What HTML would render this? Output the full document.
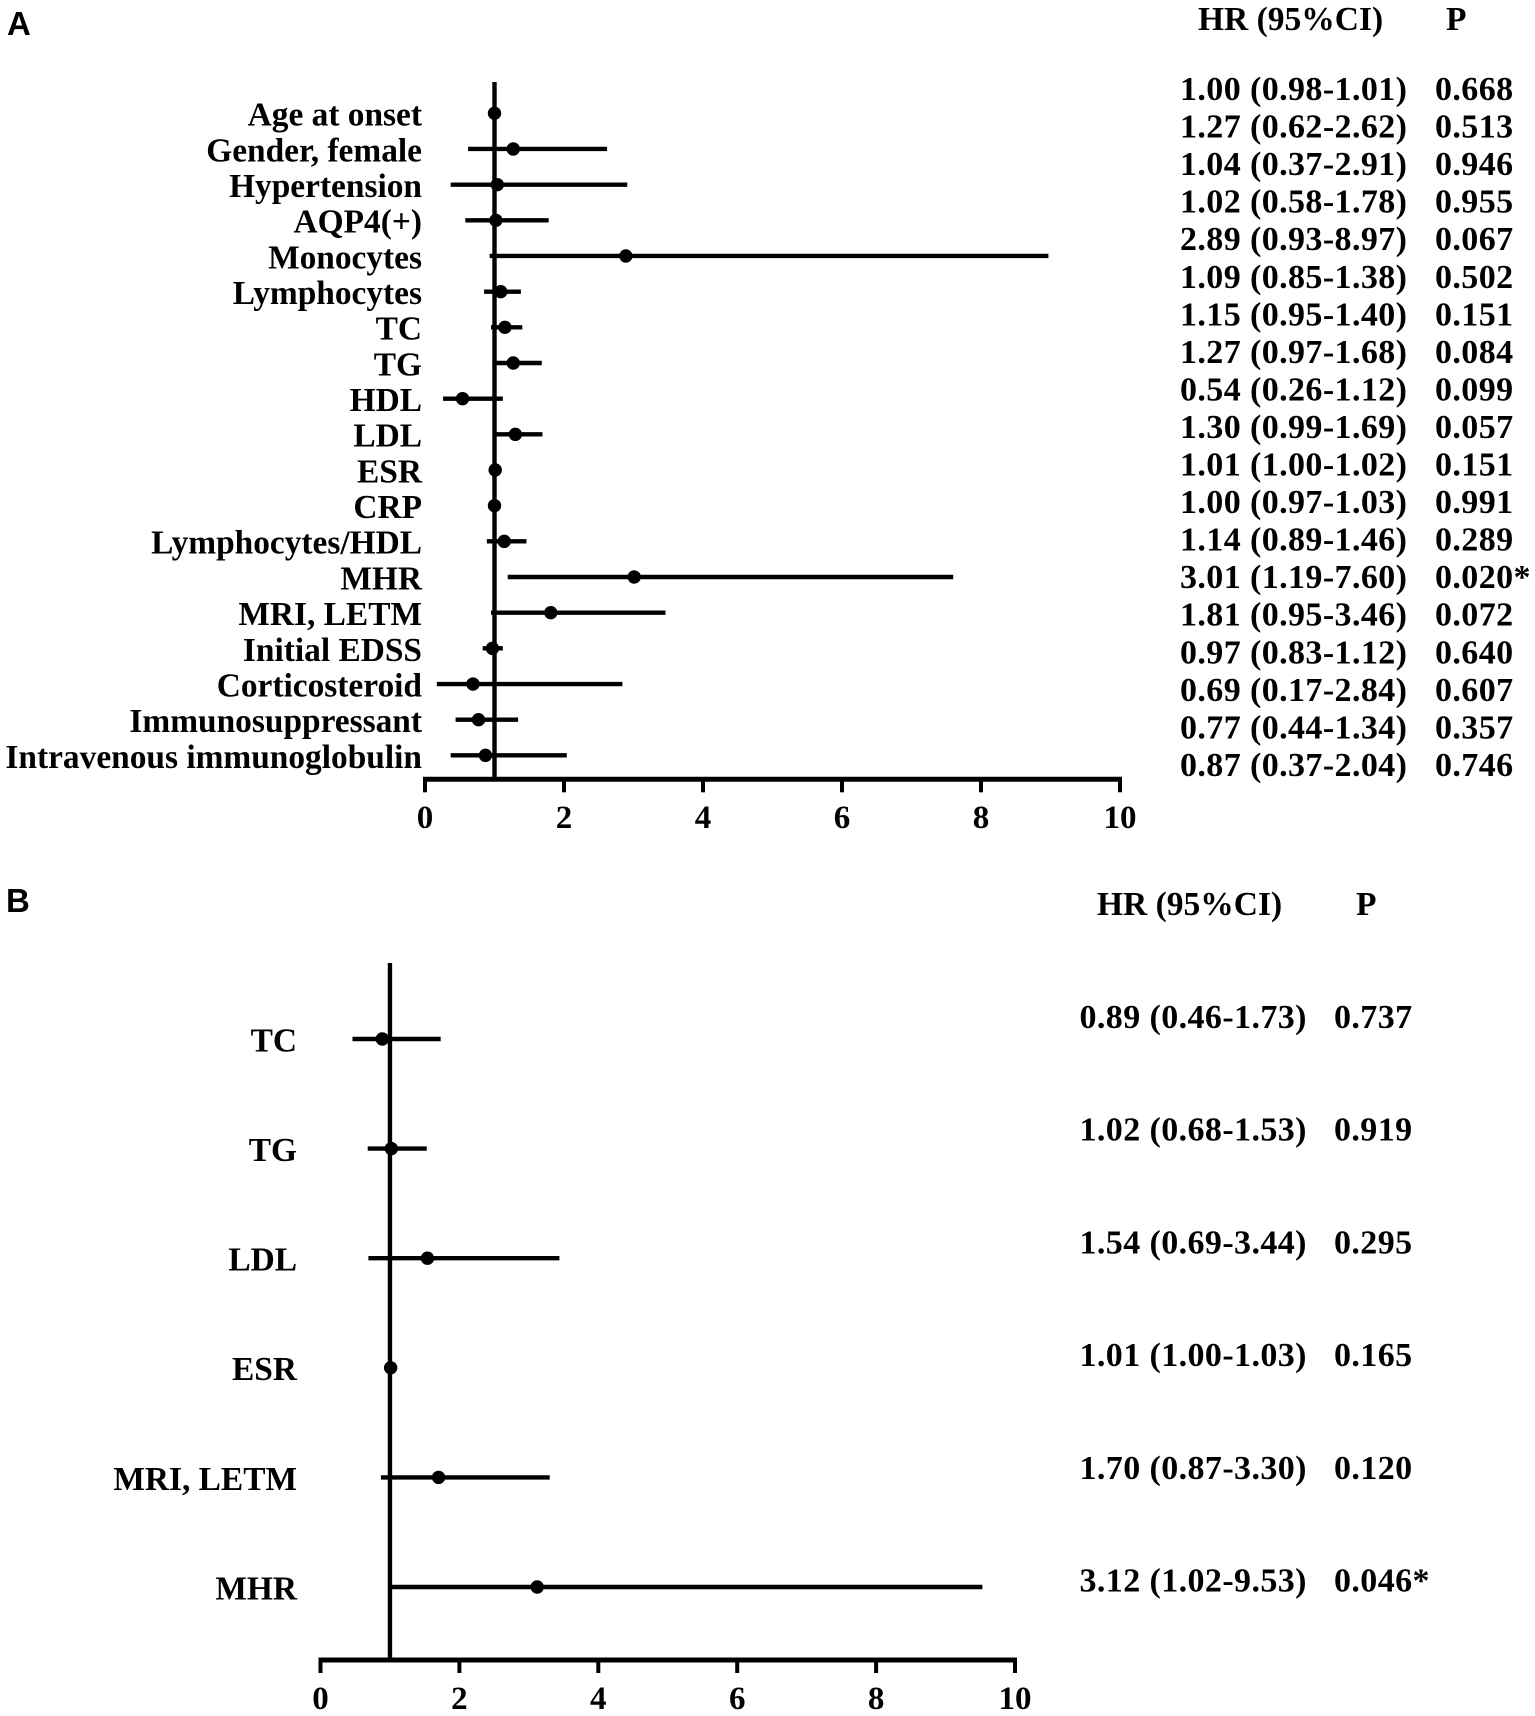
<!DOCTYPE html>
<html lang="en">
<head>
<meta charset="utf-8">
<title>Forest plots of hazard ratios</title>
<style>
html,body{margin:0;padding:0;background:#fff;}
svg{display:block;}
text{font-family:"Liberation Serif",serif;font-weight:700;fill:#000;}
.sans{font-family:"Liberation Sans",sans-serif;}
</style>
</head>
<body>
<svg id="figure" xmlns="http://www.w3.org/2000/svg" width="1535" height="1716" viewBox="0 0 1535 1716">
<rect x="0" y="0" width="1535" height="1716" fill="#fff"/>
<text class="sans" x="7" y="35" font-size="33">A</text>
<text class="sans" x="6" y="912" font-size="33">B</text>
<text x="1198" y="30" font-size="33.5">HR (95%CI)</text>
<text x="1446" y="30" font-size="33.5">P</text>
<text x="1097" y="915" font-size="33.5">HR (95%CI)</text>
<text x="1356" y="915" font-size="33.5">P</text>
<g id="panelA"></g>
<g id="panelB"></g>
</svg>
<script>
const tickValues = [0, 2, 4, 6, 8, 10];

const labelsA = ["Age at onset","Gender, female","Hypertension","AQP4(+)","Monocytes","Lymphocytes","TC","TG","HDL","LDL","ESR","CRP","Lymphocytes/HDL","MHR","MRI, LETM","Initial EDSS","Corticosteroid","Immunosuppressant","Intravenous immunoglobulin"];
const hrA = [1.00,1.27,1.04,1.02,2.89,1.09,1.15,1.27,0.54,1.30,1.01,1.00,1.14,3.01,1.81,0.97,0.69,0.77,0.87];
const lowerA = [0.98,0.62,0.37,0.58,0.93,0.85,0.95,0.97,0.26,0.99,1.00,0.97,0.89,1.19,0.95,0.83,0.17,0.44,0.37];
const upperA = [1.01,2.62,2.91,1.78,8.97,1.38,1.40,1.68,1.12,1.69,1.02,1.03,1.46,7.60,3.46,1.12,2.84,1.34,2.04];
const pValuesA = ["0.668","0.513","0.946","0.955","0.067","0.502","0.151","0.084","0.099","0.057","0.151","0.991","0.289","0.020*","0.072","0.640","0.607","0.357","0.746"];

const labelsB = ["TC","TG","LDL","ESR","MRI, LETM","MHR"];
const hrB = [0.89,1.02,1.54,1.01,1.70,3.12];
const lowerB = [0.46,0.68,0.69,1.00,0.87,1.02];
const upperB = [1.73,1.53,3.44,1.03,3.30,9.53];
const pValuesB = ["0.737","0.919","0.295","0.165","0.120","0.046*"];

const SVG_NS = "http://www.w3.org/2000/svg";

function makeLine(parent, x1, y1, x2, y2, width) {
  const el = document.createElementNS(SVG_NS, "line");
  el.setAttribute("x1", x1);
  el.setAttribute("y1", y1);
  el.setAttribute("x2", x2);
  el.setAttribute("y2", y2);
  el.setAttribute("stroke", "#000");
  el.setAttribute("stroke-width", width);
  parent.appendChild(el);
  return el;
}

function makeText(parent, x, y, size, anchor, content) {
  const el = document.createElementNS(SVG_NS, "text");
  el.setAttribute("x", x);
  el.setAttribute("y", y);
  el.setAttribute("font-size", size);
  el.setAttribute("text-anchor", anchor);
  el.textContent = content;
  parent.appendChild(el);
  return el;
}

function drawPanel(parent, cfg, labels, hr, lower, upper, pValues) {
  const xScale = v => cfg.x0 + (cfg.x10 - cfg.x0) * v / 10;
  const rowY = i => cfg.rowStart + i * cfg.rowStep;

  const refLine = makeLine(parent, xScale(1), cfg.top, xScale(1), cfg.axisY, 4.4);
  
  

  const axis = makeLine(parent, cfg.x0 - 2, cfg.axisY, cfg.x10 + 2, cfg.axisY, 5);
  
  

  tickValues.forEach(t => {
    const tick = makeLine(parent, xScale(t), cfg.axisY, xScale(t), cfg.axisY + 13, 4);
    
    
    const tickLabel = makeText(parent, xScale(t), cfg.tickBaseline, 33, "middle", String(t));
    
    
  });

  labels.forEach((name, i) => {
    const y = rowY(i);

    const label = makeText(parent, cfg.labelRight, y + cfg.labelOffset, 33.4, "end", name);
    
    

    const ci = makeLine(parent, xScale(lower[i]), y, xScale(upper[i]), y, 4.4);
    
    

    const dot = document.createElementNS(SVG_NS, "circle");
    dot.setAttribute("cx", xScale(hr[i]));
    dot.setAttribute("cy", y);
    dot.setAttribute("r", 6.7);
    dot.setAttribute("fill", "#000");
    
    
    parent.appendChild(dot);

    const rowBase = cfg.tableStart + i * cfg.tableStep;
    const hrText = hr[i].toFixed(2) + " (" + lower[i].toFixed(2) + "-" + upper[i].toFixed(2) + ")";
    const hrCell = makeText(parent, cfg.hrX, rowBase, 34, "start", hrText);
    
    
    hrCell.setAttribute("letter-spacing", "0.4");

    const pCell = makeText(parent, cfg.pX, rowBase, 34, "start", pValues[i]);
    
    
    pCell.setAttribute("letter-spacing", "0.4");
  });
}

drawPanel(document.getElementById("panelA"), {
  x0: 425, x10: 1120, top: 82, axisY: 779.3, tickBaseline: 828,
  rowStart: 113.3, rowStep: 35.67, labelRight: 422, labelOffset: 12.4,
  tableStart: 100, tableStep: 37.55, hrX: 1180, pX: 1435
}, labelsA, hrA, lowerA, upperA, pValuesA);

drawPanel(document.getElementById("panelB"), {
  x0: 320.5, x10: 1015, top: 963, axisY: 1660, tickBaseline: 1709,
  rowStart: 1039, rowStep: 109.6, labelRight: 297, labelOffset: 12.4,
  tableStart: 1028, tableStep: 112.7, hrX: 1079.5, pX: 1334
}, labelsB, hrB, lowerB, upperB, pValuesB);
</script>
</body>
</html>
